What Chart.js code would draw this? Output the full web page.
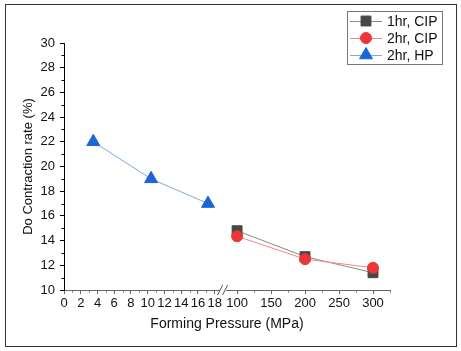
<!DOCTYPE html>
<html>
<head>
<meta charset="utf-8">
<script src="https://cdn.jsdelivr.net/npm/chart.js@4"></script>
<style>
  html, body { margin: 0; padding: 0; background: #fff; }
  #wrap { width: 461px; height: 351px; }
</style>
</head>
<body>
<div id="wrap"><canvas id="chart"></canvas></div>
<script>
// values
const hpPressure  = [3.5, 10.4, 17.2];
const hpRate      = [22.0, 19.0, 17.0];
const cipPressure = [100, 200, 300];
const cip1hRate   = [14.8, 12.7, 11.4];
const cip2hRate   = [14.35, 12.5, 11.8];

const xTicks      = [0, 2, 4, 6, 8, 10, 12, 14, 16, 18, 100, 150, 200, 250, 300];
const xMinorTicks = [1, 3, 5, 7, 9, 11, 13, 15, 17, 125, 175, 225, 275, 325];
const yMinorTicks = [11, 13, 15, 17, 19, 21, 23, 25, 27, 29];

// broken axis: two linear segments
const LEFT_MAX = 19, RIGHT_MIN = 79.4, RIGHT_MAX = 325, SPLIT = 0.488;

class BrokenLinearScale extends Chart.LinearScale {
  buildTicks() {
    this.min = 0;
    this.max = RIGHT_MAX;
    return xTicks.map(v => ({ value: v }));
  }
  getPixelForValue(value) {
    if (value === null || value === undefined) return NaN;
    const a = this.left, b = this.right;
    const split = a + (b - a) * SPLIT;
    if (value <= LEFT_MAX) return a + value / LEFT_MAX * (split - a);
    return split + (value - RIGHT_MIN) / (RIGHT_MAX - RIGHT_MIN) * (b - split);
  }
}
BrokenLinearScale.id = 'brokenLinear';
BrokenLinearScale.defaults = Chart.LinearScale.defaults;
Chart.register(BrokenLinearScale);

const pts = (xs, ys) => xs.map((x, i) => ({ x, y: ys[i] }));

const datasets = [
  { label: '1hr, CIP', data: pts(cipPressure, cip1hRate), order: 2,
    borderColor: '#8a8a8a', pointStyle: 'rect', pointRadius: 7,
    pointBackgroundColor: '#474747', pointBorderColor: '#474747' },
  { label: '2hr, CIP', data: pts(cipPressure, cip2hRate), order: 1,
    borderColor: '#f08888', pointStyle: 'circle', pointRadius: 5.5,
    pointBackgroundColor: '#ee3535', pointBorderColor: '#ee3535' },
  { label: '2hr, HP', data: pts(hpPressure, hpRate), order: 0,
    borderColor: '#7ea8dc', pointStyle: 'triangle', pointRadius: 7.5,
    pointBackgroundColor: '#1a66d4', pointBorderColor: '#1a66d4' }
];
datasets.forEach(d => { d.borderWidth = 1; d.pointBorderWidth = 1; d.tension = 0; });

const extras = {
  id: 'extras',
  afterDraw(chart) {
    const ctx = chart.ctx;
    const xs = chart.scales.x, ys = chart.scales.y;
    ctx.save();
    // minor ticks
    ctx.lineWidth = 1;
    ctx.strokeStyle = '#666';
    xMinorTicks.forEach(v => {
      const px = Math.round(xs.getPixelForValue(v)) + 0.5;
      ctx.beginPath(); ctx.moveTo(px, ys.bottom); ctx.lineTo(px, ys.bottom + 2.5); ctx.stroke();
    });
    ctx.strokeStyle = '#000';
    yMinorTicks.forEach(v => {
      const py = Math.round(ys.getPixelForValue(v)) + 0.5;
      ctx.beginPath(); ctx.moveTo(xs.left - 2.5, py); ctx.lineTo(xs.left, py); ctx.stroke();
    });
    // axis break
    const bx = xs.left + (xs.right - xs.left) * SPLIT;
    const by = ys.bottom;
    ctx.fillStyle = '#fff';
    ctx.fillRect(bx - 3, by - 1.5, 6, 3);
    ctx.strokeStyle = '#555';
    [-3, 2].forEach(dx => {
      ctx.beginPath(); ctx.moveTo(bx + dx - 2.5, by + 5); ctx.lineTo(bx + dx + 2.5, by - 5); ctx.stroke();
    });
    // legend
    ctx.strokeStyle = '#777';
    ctx.strokeRect(347.5, 11.5, 95, 53);
    ctx.font = '14px "Liberation Sans", Arial, sans-serif';
    ctx.textBaseline = 'middle';
    ctx.textAlign = 'left';
    [datasets[0], datasets[1], datasets[2]].forEach((d, i) => {
      const ry = 21 + i * 17;
      ctx.strokeStyle = d.borderColor;
      ctx.beginPath(); ctx.moveTo(350, ry + 0.5); ctx.lineTo(382, ry + 0.5); ctx.stroke();
      ctx.fillStyle = d.pointBackgroundColor;
      ctx.strokeStyle = d.pointBorderColor;
      Chart.helpers.drawPoint(ctx, { pointStyle: d.pointStyle, radius: d.pointRadius, rotation: 0, borderWidth: 1 }, 366, ry);
      ctx.fillStyle = '#111';
      ctx.fillText(d.label, 387, ry + 1);
    });
    // outer frame
    ctx.strokeStyle = '#333';
    ctx.strokeRect(5.5, 4.5, 451, 342);
    ctx.restore();
  }
};

const tickFont = { family: '"Liberation Sans", Arial, sans-serif', size: 13 };

new Chart(document.getElementById('chart'), {
  type: 'line',
  data: { datasets },
  options: {
    responsive: true,
    maintainAspectRatio: false,
    animation: false,
    events: [],
    layout: { padding: { left: 15, top: 43, right: 71, bottom: 11 } },
    plugins: { legend: { display: false }, tooltip: { enabled: false } },
    scales: {
      x: {
        type: 'brokenLinear',
        afterFit(s) { s.height = 50; },
        border: { display: true, color: '#666', width: 1 },
        grid: { display: true, drawOnChartArea: false, drawTicks: true, tickLength: 4, color: '#666' },
        ticks: { autoSkip: false, maxRotation: 0, minRotation: 0, padding: 2, color: '#111',
                 font: tickFont, callback: v => String(v) },
        title: { display: true, text: 'Forming Pressure (MPa)', color: '#111',
                 font: { family: '"Liberation Sans", Arial, sans-serif', size: 14 }, padding: { top: 0, bottom: 7 } }
      },
      y: {
        type: 'linear',
        min: 10, max: 30,
        afterFit(s) { s.width = 49; },
        border: { display: true, color: '#000', width: 1 },
        grid: { display: true, drawOnChartArea: false, drawTicks: true, tickLength: 4, color: '#000' },
        ticks: { stepSize: 2, padding: 5, color: '#111', font: tickFont },
        title: { display: true, text: 'Do Contraction rate (%)', color: '#111',
                 font: { family: '"Liberation Sans", Arial, sans-serif', size: 13 }, padding: { top: 6, bottom: 0 } }
      }
    }
  },
  plugins: [extras]
});
</script>
</body>
</html>
